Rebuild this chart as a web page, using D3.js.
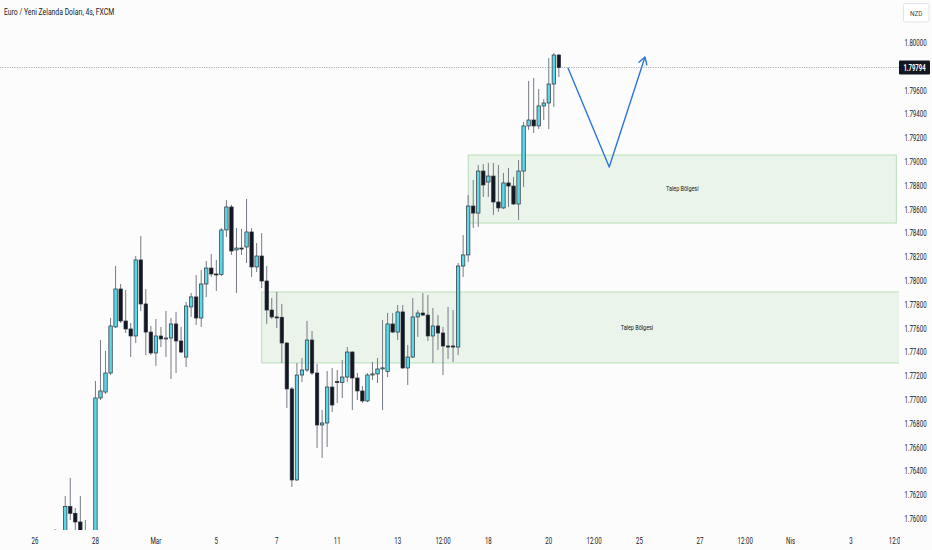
<!DOCTYPE html>
<html><head><meta charset="utf-8">
<script src="https://cdn.jsdelivr.net/npm/d3@7"></script>
<style>html,body{margin:0;padding:0;background:#fcfcfc;}svg{display:block;}</style>
</head><body>
<svg id="chart" width="932" height="550"></svg>
<script>
// ---- data ----
const title = "Euro / Yeni Zelanda Doları, 4s, FXCM";
const currency = "NZD";
const firstIndex = 4; // time index of first candle (0 = 26 Şub 00:00, 4h bars)
const open = [1.75860,1.75830,1.75880,1.76104,1.76048,1.75975,1.75860,1.75820,1.75840,1.77017,
1.77067,1.77227,1.77614,1.77933,1.77664,1.77597,1.77538,1.78177,1.77807,1.77571,
1.77395,1.77538,1.77513,1.77521,1.77639,1.77496,1.77361,1.77782,1.77866,1.77689,
1.77975,1.78109,1.78059,1.78055,1.78429,1.78622,1.78261,1.78277,1.78286,1.78412,
1.78118,1.78210,1.78000,1.77756,1.77698,1.77695,1.77479,1.77093,1.76328,1.77210,
1.77252,1.77504,1.77227,1.76790,1.76807,1.77109,1.77155,1.77148,1.77193,1.77403,
1.77185,1.77076,1.76992,1.77210,1.77219,1.77261,1.77240,1.77639,1.77571,1.77740,
1.77269,1.77361,1.77698,1.77731,1.77714,1.77538,1.77622,1.77563,1.77454,1.77454,
1.77445,1.78126,1.78219,1.78630,1.78571,1.78924,1.78832,1.78882,1.78664,1.78614,
1.78824,1.78798,1.78647,1.78924,1.79303,1.79353,1.79303,1.79471,1.79496,1.79655,
1.79899];
const high = [1.75916,1.75900,1.76193,1.76345,1.76093,1.76193,1.75992,1.75880,1.77160,1.77504,
1.77412,1.77689,1.78126,1.77975,1.77924,1.77647,1.78210,1.78378,1.77933,1.77622,
1.77681,1.77614,1.77748,1.77689,1.77740,1.77614,1.77824,1.77899,1.78050,1.78092,
1.78168,1.78227,1.78177,1.78445,1.78681,1.78640,1.78445,1.78437,1.78689,1.78445,
1.78319,1.78403,1.78126,1.77857,1.77908,1.77807,1.77487,1.77109,1.77311,1.77353,
1.77664,1.77580,1.77303,1.76916,1.77244,1.77269,1.77252,1.77336,1.77445,1.77410,
1.77227,1.77118,1.77227,1.77319,1.77353,1.77672,1.77731,1.77731,1.77798,1.77798,
1.77462,1.77857,1.77756,1.77899,1.77882,1.77773,1.77714,1.77614,1.77782,1.77756,
1.78151,1.78387,1.78723,1.78849,1.78975,1.78983,1.78992,1.78992,1.78975,1.78908,
1.78950,1.78874,1.79017,1.79336,1.79681,1.79706,1.79613,1.79529,1.79874,1.79916,
1.79908];
const low = [1.75780,1.75760,1.75850,1.75992,1.75900,1.75800,1.75780,1.75720,1.75800,1.77000,
1.77051,1.77210,1.77605,1.77647,1.77563,1.77361,1.77479,1.77748,1.77378,1.77378,
1.77286,1.77445,1.77361,1.77177,1.77227,1.77395,1.77277,1.77698,1.77630,1.77614,
1.77866,1.78034,1.77916,1.78042,1.78370,1.78219,1.77899,1.78219,1.78151,1.78034,
1.78076,1.77941,1.77639,1.77681,1.77605,1.77311,1.76933,1.76269,1.76320,1.77151,
1.77235,1.77210,1.76597,1.76513,1.76605,1.76899,1.76975,1.77017,1.77151,1.76916,
1.77000,1.76975,1.76983,1.77168,1.77143,1.76916,1.77193,1.77563,1.77504,1.77261,
1.77126,1.77353,1.77530,1.77706,1.77496,1.77311,1.77420,1.77210,1.77345,1.77319,
1.77378,1.78034,1.78160,1.78445,1.78454,1.78706,1.78706,1.78555,1.78580,1.78605,
1.78622,1.78639,1.78513,1.78790,1.79269,1.79244,1.79277,1.79353,1.79277,1.79462,
1.79714];
const close = [1.75830,1.75880,1.76104,1.76048,1.75975,1.75860,1.75820,1.75840,1.77017,1.77076,
1.77227,1.77622,1.77933,1.77664,1.77597,1.77538,1.78177,1.77807,1.77571,1.77395,
1.77538,1.77513,1.77521,1.77639,1.77496,1.77403,1.77790,1.77866,1.77689,1.77975,
1.78109,1.78059,1.78055,1.78429,1.78622,1.78252,1.78277,1.78270,1.78412,1.78118,
1.78210,1.78000,1.77756,1.77698,1.77695,1.77479,1.77093,1.76328,1.77210,1.77252,
1.77504,1.77227,1.76790,1.76807,1.77109,1.76958,1.77148,1.77193,1.77403,1.77185,
1.77076,1.76992,1.77210,1.77219,1.77261,1.77270,1.77639,1.77571,1.77740,1.77269,
1.77361,1.77698,1.77731,1.77714,1.77538,1.77622,1.77563,1.77454,1.77445,1.77445,
1.78126,1.78219,1.78630,1.78571,1.78924,1.78807,1.78882,1.78664,1.78614,1.78824,
1.78798,1.78647,1.78924,1.79303,1.79353,1.79303,1.79471,1.79496,1.79655,1.79899,
1.79794];
const lastPrice = 1.79794;

const timeLabels = ["26","28","Mar","5","7","11","13","12:00","18","20","12:00","25","27","12:00","Nis","3","12:00"];
const timeLabelIndex = [0,12,24,36,48,60,72,81,90,102,111,120,132,141,150,162,171];

const zoneLabels = ["Talep Bölgesi","Talep Bölgesi"];
const zoneStart = [86, 45];
const zoneEnd = [171, 194];
const zoneTop = [1.79059, 1.77908];
const zoneBottom = [1.78487, 1.77311];

const arrowIndex = [105.8, 114, 121.1];
const arrowPrice = [1.79792, 1.78958, 1.79882];

// ---- layout ----
const W = 932, H = 550;
const paneRight = 899, paneBottom = 530;
const svg = d3.select("#chart");
const FONT = "Roboto, 'Noto Sans', 'DejaVu Sans', sans-serif";

const x = d3.scaleLinear().domain([0, 162]).range([35, 851]);
const y = d3.scaleLinear().domain([1.76, 1.80]).range([519, 43]);

svg.append("rect").attr("width", W).attr("height", H).attr("fill", "#fcfcfc");

const defs = svg.append("defs");
defs.append("clipPath").attr("id", "pane").append("rect")
  .attr("x", 0).attr("y", 0).attr("width", paneRight).attr("height", paneBottom);
defs.append("clipPath").attr("id", "timeclip").append("rect")
  .attr("x", 0).attr("y", paneBottom).attr("width", paneRight + 1).attr("height", H - paneBottom);

const pane = svg.append("g").attr("clip-path", "url(#pane)");

// zones
const zones = d3.range(zoneStart.length).map(i => ({
  s: zoneStart[i], e: zoneEnd[i], t: zoneTop[i], b: zoneBottom[i], label: zoneLabels[i]
}));
pane.selectAll("rect.zone").data(zones).join("rect").attr("class", "zone")
  .attr("x", d => x(d.s)).attr("y", d => y(d.t))
  .attr("width", d => x(d.e) - x(d.s)).attr("height", d => y(d.b) - y(d.t))
  .attr("fill", "rgba(76,175,80,0.10)")
  .attr("stroke", "rgba(76,175,80,0.35)").attr("stroke-width", 1);

function narrowText(sel, sx) {
  sel.each(function(d) {
    const t = d3.select(this);
    const tx = +t.attr("data-x"), ty = +t.attr("data-y");
    t.attr("transform", `translate(${tx},${ty}) scale(${sx},1)`);
  });
}

pane.selectAll("text.zl").data(zones).join("text").attr("class", "zl")
  .attr("data-x", d => (x(d.s) + x(d.e)) / 2)
  .attr("data-y", d => (y(d.t) + y(d.b)) / 2 + 2.3)
  .attr("text-anchor", "middle").attr("font-family", FONT).attr("font-size", 7)
  .attr("fill", "#131722").text(d => d.label).call(narrowText, 0.78);

// last price line
pane.append("line").attr("x1", 0).attr("x2", paneRight)
  .attr("y1", y(lastPrice)).attr("y2", y(lastPrice))
  .attr("stroke", "#9598a1").attr("stroke-width", 0.8).attr("stroke-dasharray", "1.2,1.2");

// candles
const candles = open.map((o, i) => ({
  t: firstIndex + i, o, h: high[i], l: low[i], c: close[i], up: close[i] >= o
}));
const bw = 3.4;
pane.selectAll("line.wick").data(candles).join("line").attr("class", "wick")
  .attr("x1", d => x(d.t)).attr("x2", d => x(d.t))
  .attr("y1", d => y(d.h)).attr("y2", d => y(d.l))
  .attr("stroke", "#787b86").attr("stroke-width", 1);
pane.selectAll("rect.body").data(candles).join("rect").attr("class", "body")
  .attr("x", d => x(d.t) - bw / 2).attr("width", bw)
  .attr("y", d => y(Math.max(d.o, d.c)))
  .attr("height", d => Math.max(1, Math.abs(y(d.o) - y(d.c))))
  .attr("fill", d => d.up ? "#5fd6e6" : "#131722")
  .attr("stroke", "#2a2e39").attr("stroke-width", 0.7);

// arrow
const pts = arrowIndex.map((t, i) => [x(t), y(arrowPrice[i])]);
pane.append("path").attr("d", d3.line()(pts))
  .attr("fill", "none").attr("stroke", "#2f74dc").attr("stroke-width", 1.4)
  .attr("stroke-linejoin", "round");
{
  const [x1, y1] = pts[pts.length - 2], [x2, y2] = pts[pts.length - 1];
  const ang = Math.atan2(y2 - y1, x2 - x1);
  const L = 8, spread = 0.55;
  const a1 = [x2 - L * Math.cos(ang - spread), y2 - L * Math.sin(ang - spread)];
  const a2 = [x2 - L * Math.cos(ang + spread), y2 - L * Math.sin(ang + spread)];
  pane.append("path").attr("d", d3.line()([a1, [x2, y2], a2]))
    .attr("fill", "none").attr("stroke", "#2f74dc").attr("stroke-width", 1.4)
    .attr("stroke-linejoin", "round").attr("stroke-linecap", "round");
}

// title
svg.append("text").attr("data-x", 4).attr("data-y", 14.5)
  .attr("font-family", FONT).attr("font-size", 9.5).attr("fill", "#131722")
  .text(title).call(narrowText, 0.72);

// price axis
const ticks = y.ticks(20);
const fmt = d3.format(".5f");
svg.append("g").selectAll("text").data(ticks).join("text")
  .attr("data-x", 915.5).attr("data-y", d => y(d) + 3)
  .attr("text-anchor", "middle").attr("font-family", FONT).attr("font-size", 8.5)
  .attr("fill", "#131722").text(d => fmt(d)).call(narrowText, 0.72);

// currency box
svg.append("rect").attr("x", 903.5).attr("y", 3.5).attr("width", 25.5).attr("height", 18.5)
  .attr("rx", 2).attr("fill", "#ffffff").attr("stroke", "#e0e3eb").attr("stroke-width", 1);
svg.append("text").attr("data-x", 916.2).attr("data-y", 15.5)
  .attr("text-anchor", "middle").attr("font-family", FONT).attr("font-size", 8)
  .attr("fill", "#434651").text(currency).call(narrowText, 0.8);

// last price label
svg.append("rect").attr("x", 899).attr("y", y(lastPrice) - 7).attr("width", 31).attr("height", 14)
  .attr("rx", 1).attr("fill", "#131722");
svg.append("text").attr("data-x", 914.5).attr("data-y", y(lastPrice) + 3)
  .attr("text-anchor", "middle").attr("font-family", FONT).attr("font-size", 8.5)
  .attr("font-weight", "bold").attr("fill", "#ffffff").text(fmt(lastPrice)).call(narrowText, 0.7);

// time axis
svg.append("g").attr("clip-path", "url(#timeclip)").selectAll("text")
  .data(timeLabelIndex.map((t, i) => ({ t, label: timeLabels[i] }))).join("text")
  .attr("data-x", d => x(d.t)).attr("data-y", 544)
  .attr("text-anchor", "middle").attr("font-family", FONT).attr("font-size", 8.5)
  .attr("fill", "#131722").text(d => d.label).call(narrowText, 0.72);
</script>
</body></html>
